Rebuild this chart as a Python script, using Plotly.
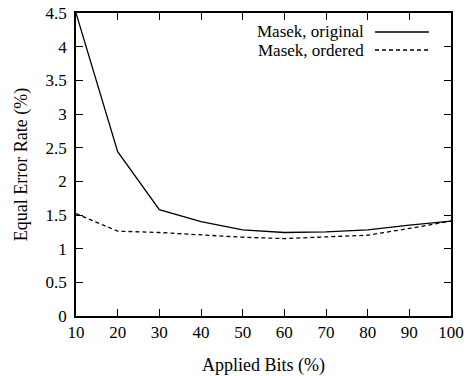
import plotly.graph_objects as go

bits = [10, 20, 30, 40, 50, 60, 70, 80, 90, 100]
masek_original = [4.5, 2.44, 1.58, 1.40, 1.28, 1.24, 1.25, 1.28, 1.35, 1.41]
masek_ordered = [1.52, 1.26, 1.24, 1.20, 1.17, 1.15, 1.17, 1.20, 1.30, 1.41]
names = ["Masek, original", "Masek, ordered"]
x_ticks = [10, 20, 30, 40, 50, 60, 70, 80, 90, 100]
y_ticks = [0, 0.5, 1, 1.5, 2, 2.5, 3, 3.5, 4, 4.5]

W, H = 470, 376
ml, mr, mt, mb = 76, 19, 13, 60
FAM = "Liberation Serif"

fig = go.Figure()
fig.add_trace(go.Scatter(x=bits, y=masek_original, mode="lines", name=names[0],
                         line=dict(color="black", width=1.3, dash="solid"), showlegend=False))
fig.add_trace(go.Scatter(x=bits, y=masek_ordered, mode="lines", name=names[1],
                         line=dict(color="black", width=1.3, dash="4px,3px"), showlegend=False))

font = dict(family=FAM, size=17, color="black")

axcommon = dict(showgrid=False, zeroline=False, showline=True, linecolor="black", linewidth=1.5,
                mirror="allticks", ticks="inside", ticklen=7, tickcolor="black", tickwidth=1,
                tickfont=font, automargin=False)
fig.update_layout(
    width=W, height=H, margin=dict(l=ml, r=mr, t=mt, b=mb),
    paper_bgcolor="white", plot_bgcolor="white", font=font,
    xaxis=dict(range=[10, 100], tickvals=x_ticks, ticktext=[str(v) for v in x_ticks],
               title=dict(text="Applied Bits (%)", font=dict(family=FAM, size=18), standoff=17),
               **axcommon),
    yaxis=dict(range=[0, 4.5], tickvals=y_ticks, ticktext=[f"{v:g}" for v in y_ticks],
               ticklabelstandoff=4,
               title=dict(text="Equal Error Rate (%)", font=dict(family=FAM, size=18), standoff=13),
               **axcommon),
)

pw = W - ml - mr
ph = H - mt - mb
def px(x): return (x - ml) / pw
def py(y): return (H - mb - y) / ph

rows = [(32, "solid"), (50, "4px,3px")]
for (yy, dash), nm in zip(rows, names):
    fig.add_annotation(x=px(366), y=py(yy), xref="paper", yref="paper", text=nm, showarrow=False,
                       xanchor="right", yanchor="middle",
                       font=dict(family=FAM, size=17, color="black"))
    fig.add_shape(type="line", xref="paper", yref="paper", x0=px(375), x1=px(429), y0=py(yy), y1=py(yy),
                  line=dict(color="black", width=1.3, dash=dash))

fig.write_html("out.html")
